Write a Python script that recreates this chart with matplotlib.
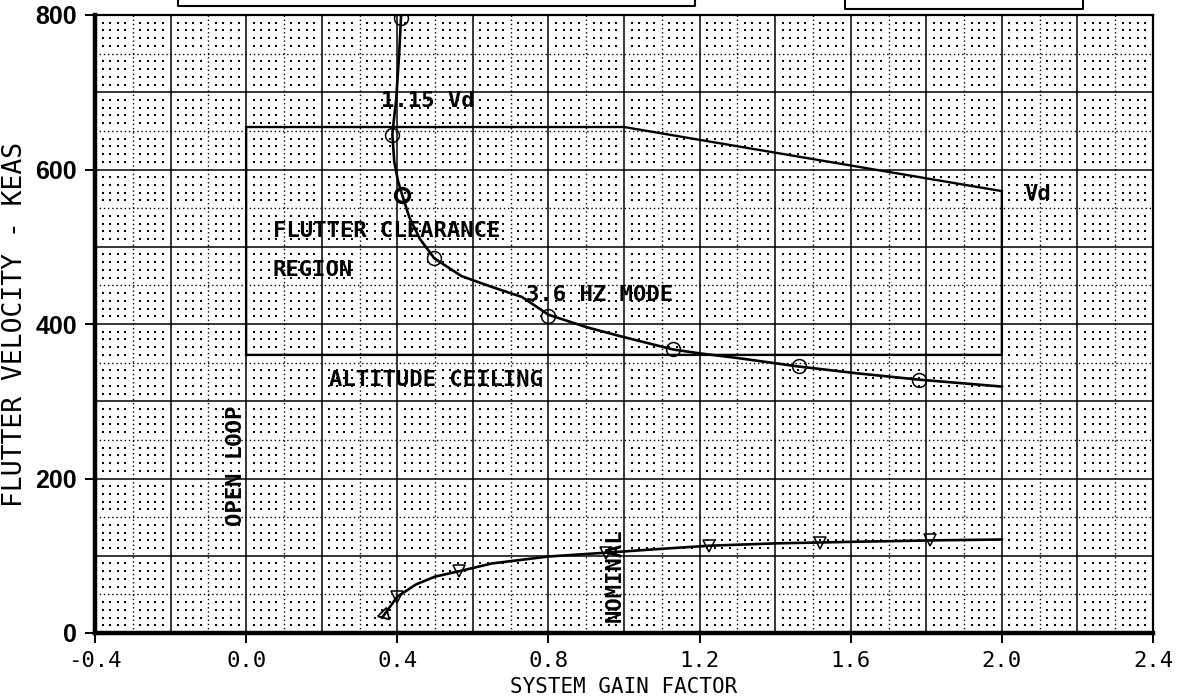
import numpy as np
import matplotlib
matplotlib.use("Agg")
import matplotlib.pyplot as plt
from matplotlib.lines import Line2D

# ---- data ----
mode_curve_x = [0.41, 0.405, 0.397, 0.390, 0.387, 0.392, 0.402, 0.413, 0.432, 0.46, 0.498,
                0.57, 0.65, 0.73, 0.80, 0.90, 1.00, 1.13, 1.20, 1.30, 1.462, 1.62, 1.78, 2.0]
mode_curve_y = [798, 750, 690, 660, 645, 610, 585, 567, 538, 510, 485,
                462, 448, 435, 412, 396, 383, 367, 362, 356, 345, 336, 328, 319]
mode_pts_x = [0.41, 0.387, 0.80, 1.13, 1.462, 1.78, 0.498]
mode_pts_y = [796, 645, 410, 367, 345, 328, 485]
mode_bold_x = [0.413]
mode_bold_y = [567]

nom_curve_x = [0.36, 0.40, 0.45, 0.50, 0.564, 0.65, 0.80, 0.953, 1.10, 1.226, 1.40, 1.60, 1.83, 2.0]
nom_curve_y = [20, 47, 63, 73, 80, 90, 99, 104, 109, 113, 116, 118, 120, 121]
nom_pts_x = [0.40, 0.564, 0.953, 1.226, 1.52, 1.81]
nom_pts_y = [47, 80, 104, 113, 117, 120]
nom_start_x = [0.366]
nom_start_y = [24]

region_x = [0.0, 0.0, 1.0, 2.0, 2.0, 0.0]
region_y = [360, 655, 655, 572, 360, 360]

xticks = [-0.4, 0.0, 0.4, 0.8, 1.2, 1.6, 2.0, 2.4]
xticklabels = ["-0.4", "0.0", "0.4", "0.8", "1.2", "1.6", "2.0", "2.4"]
yticks = [0, 200, 400, 600, 800]
yticklabels = ["0", "200", "400", "600", "800"]

W, H = 1195, 700
fig = plt.figure(figsize=(W / 100, H / 100), dpi=100)
ax = fig.add_axes([95 / W, 1 - 633 / H, (1153 - 95) / W, (633 - 15) / H])
ax.set_xlim(-0.4, 2.4)
ax.set_ylim(0, 800)

mono = "DejaVu Sans Mono"

# ---- graph-paper grid ----
for i in range(-4, 25):
    xv = i / 10
    if i % 2 == 0:
        ax.axvline(xv, color="black", lw=1.1, zorder=1)
    else:
        ax.axvline(xv, color="black", lw=1.0, ls=(0, (1, 2)), zorder=1)
for j in range(0, 17):
    yv = j * 50
    if j % 2 == 0:
        ax.axhline(yv, color="black", lw=1.1, zorder=1)
    else:
        ax.axhline(yv, color="black", lw=1.0, ls=(0, (1, 2)), zorder=1)
gx = [k / 50 for k in range(-20, 121) if k % 5 != 0]
gy = [k * 10 for k in range(0, 81) if k % 5 != 0]
GX, GY = np.meshgrid(gx, gy)
ax.scatter(GX.ravel(), GY.ravel(), s=1.6, marker="s", color="black", lw=0, zorder=1)

# ---- region box ----
ax.plot(region_x, region_y, color="black", lw=1.7, zorder=3, solid_joinstyle="miter")

# ---- curves ----
ax.plot(mode_curve_x, mode_curve_y, color="black", lw=1.9, zorder=4)
ax.plot(mode_pts_x, mode_pts_y, ls="none", marker="o", ms=10, mfc="none", mec="black", mew=1.1, zorder=5)
ax.plot(mode_bold_x, mode_bold_y, ls="none", marker="o", ms=10, mfc="none", mec="black", mew=2.5, zorder=5)
ax.plot(nom_curve_x, nom_curve_y, color="black", lw=1.9, zorder=4)
ax.plot(nom_pts_x, nom_pts_y, ls="none", marker="v", ms=9, mfc="none", mec="black", mew=1.1, zorder=5)
ax.plot(nom_start_x, nom_start_y, ls="none", marker=(3, 0, 225), ms=10, mfc="none", mec="black", mew=1.3, zorder=5)

# ---- annotations ----
tk = dict(family=mono, fontweight="bold", fontsize=16, color="black", zorder=6)
ax.text(0.357, 689, "1.15 Vd", ha="left", va="center", **tk)
ax.text(0.07, 520, "FLUTTER CLEARANCE", ha="left", va="center", **tk)
ax.text(0.07, 470, "REGION", ha="left", va="center", **tk)
ax.text(0.74, 437, "3.6 HZ MODE", ha="left", va="center", **tk)
ax.text(0.22, 327, "ALTITUDE CEILING", ha="left", va="center", **tk)
ax.text(2.06, 568, "Vd", ha="left", va="center", **tk)
ax.text(-0.028, 217, "OPEN LOOP", ha="center", va="center", rotation=90, **tk)
ax.text(0.975, 75, "NOMINAL", ha="center", va="center", rotation=90, **tk)

# ---- axes styling ----
for side, lw in [("left", 3.2), ("bottom", 3.2), ("top", 1.6), ("right", 1.6)]:
    ax.spines[side].set_linewidth(lw)
    ax.spines[side].set_color("black")
    ax.spines[side].set_zorder(7)
ax.set_xticks(xticks)
ax.set_xticklabels(xticklabels, family=mono, fontsize=16)
ax.set_yticks(yticks)
ax.set_yticklabels(yticklabels, family="Liberation Sans", fontweight="bold", fontsize=18)
ax.tick_params(direction="out", length=7, width=1.4, color="black", pad=6)
ax.set_xlabel("SYSTEM GAIN FACTOR", family=mono, fontsize=15, labelpad=4)
ax.set_ylabel("FLUTTER VELOCITY - KEAS", family=mono, fontsize=19, labelpad=5)

# ---- cropped title boxes at the top edge ----
def topbox(x0, x1, ybot):
    yb = 1 - ybot / H
    fig.add_artist(Line2D([x0 / W, x0 / W, x1 / W, x1 / W], [1.01, yb, yb, 1.01],
                          transform=fig.transFigure, color="black", lw=1.5))

topbox(178, 695, 6)
topbox(845, 1083, 9)

fig.savefig("out.png", dpi=100)
